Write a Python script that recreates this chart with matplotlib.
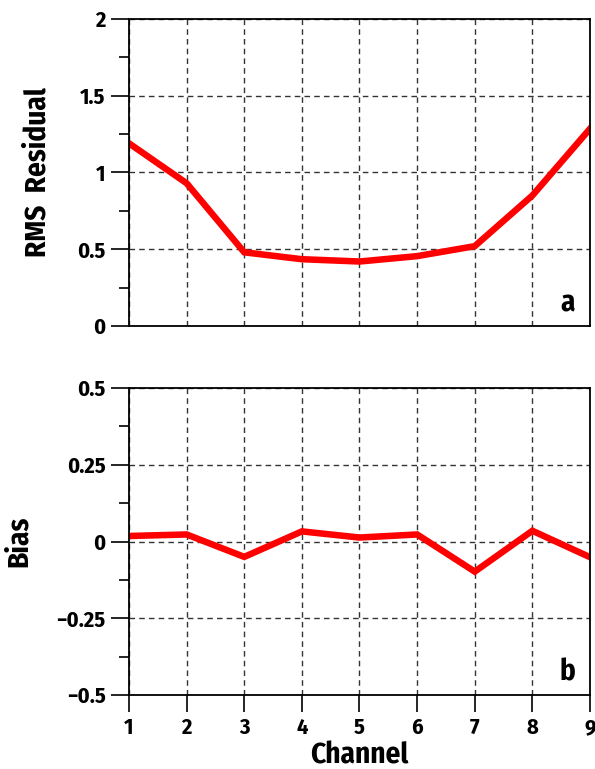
import matplotlib
matplotlib.use("Agg")
import matplotlib.pyplot as plt
from matplotlib.ticker import MultipleLocator

plt.rcParams['font.family'] = ['Fira Sans Condensed', 'DejaVu Sans']
plt.rcParams['font.weight'] = 'bold'
plt.rcParams['axes.labelweight'] = 'bold'

# ---- data
channels = [1, 2, 3, 4, 5, 6, 7, 8, 9]
rms = [1.19, 0.93, 0.48, 0.435, 0.42, 0.455, 0.52, 0.85, 1.285]
bias = [0.018, 0.023, -0.05, 0.033, 0.013, 0.023, -0.098, 0.035, -0.051]
rms_ticks = [0, 0.5, 1, 1.5, 2]
rms_labels = ['0', '0.5', '1', '1.5', '2']
bias_ticks = [-0.5, -0.25, 0, 0.25, 0.5]
bias_labels = ['\u22120.5', '\u22120.25', '0', '0.25', '0.5']

fig = plt.figure(figsize=(5.95, 7.69), dpi=100, facecolor='white')
ax1 = fig.add_axes([0.2168, 0.5761, 0.7748, 0.3992])
ax2 = fig.add_axes([0.2168, 0.0962, 0.7748, 0.3992])

def style(ax, ymin, ymax, minor, show_x):
    ax.set_xlim(1, 9)
    ax.set_ylim(ymin, ymax)
    ax.xaxis.set_major_locator(MultipleLocator(1))
    ax.yaxis.set_minor_locator(MultipleLocator(minor))
    ax.grid(True, which='major', linestyle=(0, (4, 3)), color='#333333', linewidth=1.0)
    ax.tick_params(axis='y', which='major', direction='out', length=13, width=1.2,
                   labelsize=16, pad=4)
    ax.tick_params(axis='y', which='minor', direction='out', length=7, width=1.2)
    ax.tick_params(axis='y', which='both', right=False)
    if show_x:
        ax.tick_params(axis='x', which='major', direction='out', length=12, width=1.2,
                       labelsize=16, pad=4)
    else:
        ax.tick_params(axis='x', which='major', length=0, labelbottom=False)
    for s in ax.spines.values():
        s.set_linewidth(1.3)
        s.set_zorder(5)

# panel a
ax1.plot(channels, rms, color='#ff0000', linewidth=4.7, solid_joinstyle='miter', zorder=4)
style(ax1, 0, 2, 0.25, False)
ax1.set_yticks(rms_ticks)
ax1.set_yticklabels(rms_labels)
ax1.set_ylabel('RMS  Residual', fontsize=21)
ax1.yaxis.set_label_coords(-0.167, 0.5)
ax1.text(0.952, 0.047, 'a', transform=ax1.transAxes, fontsize=21, ha='center', va='baseline')

# panel b
ax2.plot(channels, bias, color='#ff0000', linewidth=4.7, solid_joinstyle='miter', zorder=4)
style(ax2, -0.5, 0.5, 0.125, True)
ax2.set_yticks(bias_ticks)
ax2.set_yticklabels(bias_labels)
ax2.set_ylabel('Bias', fontsize=21)
ax2.yaxis.set_label_coords(-0.208, 0.5)
ax2.set_xlabel('Channel', fontsize=21)
ax2.xaxis.set_label_coords(0.5, -0.153)
ax2.text(0.952, 0.047, 'b', transform=ax2.transAxes, fontsize=21, ha='center', va='baseline')

fig.savefig('out.png', dpi=100, facecolor='white')
